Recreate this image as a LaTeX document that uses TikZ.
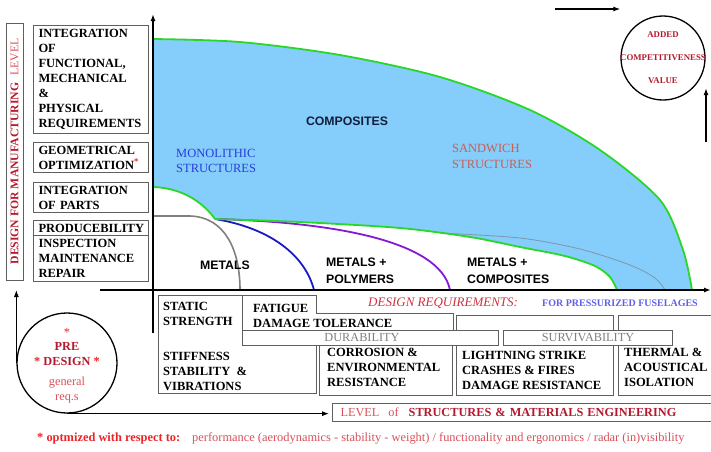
\documentclass[tikz,border=0pt]{standalone}
\usepackage{fontspec}
\setmainfont{Liberation Serif}
\setsansfont{Liberation Sans}
\usepackage{xcolor}
\usetikzlibrary{arrows.meta, calc}

\definecolor{skyfill}{RGB}{133,205,250}
\definecolor{limeline}{RGB}{40,215,40}
\definecolor{boxgray}{RGB}{95,95,95}
\definecolor{darkred}{RGB}{180,25,45}
\definecolor{softred}{RGB}{215,80,90}
\definecolor{brightred}{RGB}{235,35,40}
\definecolor{polyblue}{RGB}{25,25,200}
\definecolor{purpleline}{RGB}{130,25,215}
\definecolor{monoblue}{RGB}{40,60,220}
\definecolor{sandred}{RGB}{200,95,85}
\definecolor{navytext}{RGB}{20,30,60}
\definecolor{fuselblue}{RGB}{95,95,235}
\definecolor{thingray}{RGB}{125,150,170}
\definecolor{reqred}{RGB}{205,50,65}

\newcommand{\boxfont}{\bfseries\fontsize{12.5}{15}\selectfont}
\newcommand{\labfont}{\sffamily\bfseries\fontsize{12.3}{17}\selectfont}

\begin{document}
\begin{tikzpicture}[x=1pt, y=-1pt, >={Latex[length=7pt, width=5pt]},
  every node/.style={inner sep=0pt},
  lbox/.style={draw=boxgray, line width=1pt, anchor=north west, align=left, text width=105pt, inner xsep=5pt, font=\boxfont},
  rbox/.style={draw=boxgray, line width=1pt, fill=white, anchor=north west},
  btxt/.style={anchor=north west, align=left, font=\boxfont},
  gtxt/.style={font=\fontsize{12.3}{15}\selectfont, text=gray},
  stxt/.style={align=left, font=\labfont},
  axis/.style={line width=1.6pt, ->},
  curve/.style={line width=1.8pt}]
  \useasboundingbox (0,0) rectangle (711,451);

  % composites region
  \fill[skyfill] plot[smooth] coordinates {(153,39) (240,42) (340,55) (440,77) (530,110) (600,150) (660,200) (683,250) (692,290)}
    -- plot[smooth] coordinates {(617,290) (610,277) (595,266) (565,256) (520,247) (470,237) (400,228) (300,222) (215,219)}
    .. controls (205,205) and (185,188) .. (153,187) -- cycle;
  \draw[thingray, line width=0.8pt] plot[smooth] coordinates {(440,233) (520,238) (580,249) (630,265) (655,278) (665,290)};
  \draw[gray, line width=1.6pt] (153,216) -- (190,216) .. controls (225,217) and (240,250) .. (240,290);
  \draw[polyblue, curve] (215,219) .. controls (270,228) and (305,255) .. (314,290);
  \draw[purpleline, curve] (215,219) .. controls (330,222) and (440,240) .. (450,290);
  \draw[limeline, curve] plot[smooth] coordinates {(153,39) (240,42) (340,55) (440,77) (530,110) (600,150) (660,200) (683,250) (692,290)};
  \draw[limeline, curve] plot[smooth] coordinates {(617,290) (610,277) (595,266) (565,256) (520,247) (470,237) (400,228) (300,222) (215,219)};
  \draw[limeline, curve] (215,219) .. controls (205,205) and (185,188) .. (153,187);

  \node[font=\sffamily\bfseries\fontsize{12.3}{15}\selectfont, text=navytext] (comp) at (347,121) {COMPOSITES};
  \node[anchor=west, align=left, text=monoblue, font=\fontsize{12.5}{15}\selectfont] (mono) at (176,160.5) {MONOLITHIC\\STRUCTURES};
  \node[anchor=west, align=left, text=sandred, font=\fontsize{12.5}{16}\selectfont] (sand) at (452,156) {SANDWICH\\STRUCTURES};
  \node[stxt] (metals) at (225,265) {METALS};
  \node[stxt, anchor=west] (metpoly) at (326,270.5) {METALS +\\POLYMERS};
  \node[stxt, anchor=west] (metcomp) at (467,270.5) {METALS +\\COMPOSITES};

  % axes
  \coordinate (vbot) at (153,333);
  \coordinate (vtop) at (153,14);
  \coordinate (hleft) at (100,290);
  \coordinate (hright) at (711,290);
  \draw[axis] (vbot) -- (vtop);
  \draw[axis] (hleft) -- (hright);

  % design for manufacturing column
  \node[draw=boxgray, line width=1pt, rotate=90, minimum width=257, minimum height=17, font=\fontsize{11.7}{14}\selectfont] (dfmlevel) at (14.5,151.5) {{\bfseries\color{darkred}DESIGN FOR MANUFACTURING}\hspace{7pt}{\color{softred}LEVEL}};
  \node[lbox, minimum height=108] (funcreq) at (33,25) {INTEGRATION\\OF\\FUNCTIONAL,\\MECHANICAL\\\&\\PHYSICAL\\REQUIREMENTS};
  \node[lbox, minimum height=30] (geomopt) at (33,142) {GEOMETRICAL\\OPTIMIZATION\textsuperscript{\color{brightred}*}};
  \node[lbox, minimum height=30] (intparts) at (33,182) {INTEGRATION\\OF PARTS};
  \node[lbox, minimum height=15] (produce) at (33,220) {PRODUCEBILITY};
  \node[lbox, minimum height=46] (inspect) at (33,235) {INSPECTION\\MAINTENANCE\\REPAIR};

  % design requirements
  \node[anchor=west, font=\itshape\fontsize{13}{15}\selectfont, text=reqred] (desreq) at (368,303) {DESIGN REQUIREMENTS:};
  \node[anchor=west, font=\bfseries\fontsize{10}{12}\selectfont, text=fuselblue] (fusel) at (542,303) {FOR PRESSURIZED FUSELAGES};
  \node[rbox, minimum width=158, minimum height=98] (statbox) at (158,295) {};
  \node[rbox, minimum width=133, minimum height=50] (corrbox) at (319,345) {};
  \node[rbox, minimum width=157, minimum height=80] (lightbox) at (456,315) {};
  \node[rbox, minimum width=100, minimum height=80] (thermbox) at (618,315) {};
  \draw[draw=boxgray, line width=1pt, fill=white] (242,295) -- (316,295) -- (316,313) -- (453,313) -- (453,330) -- (242,330) -- cycle;
  \node[rbox, minimum width=256, minimum height=15] (durabox) at (242,330) {};
  \node[rbox, gtxt, minimum width=169, minimum height=15] (survbox) at (503,330) {SURVIVABILITY};
  \node[btxt] (stattxt) at (163,302) {STATIC\\STRENGTH\\[20pt]STIFFNESS\\STABILITY~~\&\\VIBRATIONS};
  \node[btxt] (fattxt) at (253,304) {FATIGUE};
  \node[btxt] (damtxt) at (253,319) {DAMAGE TOLERANCE};
  \node[gtxt] (duratxt) at (362,337.5) {DURABILITY};
  \node[btxt] (corrtxt) at (327,348) {CORROSION \&\\ENVIRONMENTAL\\RESISTANCE};
  \node[btxt] (lighttxt) at (462,351) {LIGHTNING STRIKE\\CRASHES \& FIRES\\DAMAGE RESISTANCE};
  \node[btxt] (thermtxt) at (624,348) {THERMAL \&\\ACOUSTICAL\\ISOLATION};

  % pre design and levels
  \node[circle, draw, line width=1.3pt, minimum size=100] (pre) at (67,363) {};
  \node[align=center, text=darkred, font=\fontsize{12.3}{15}\selectfont] (pretxt) at (67,366) {{\color{brightred}*}\\[-1pt]\textbf{PRE}\\\textbf{{\color{brightred}*} DESIGN {\color{brightred}*}}\\[5pt]{\color{softred}general}\\{\color{softred}req.s}};
  \node[draw=boxgray, line width=1pt, anchor=north west, minimum height=18, text width=375pt, inner xsep=8pt, align=left, font=\fontsize{12.3}{15}\selectfont] (lvlbox) at (332,403) {{\color{softred}LEVEL\hspace{9pt}of}\hspace{10pt}{\bfseries\color{darkred}STRUCTURES \& MATERIALS ENGINEERING}};
  \draw[->, line width=1pt] (pre.west) -- (pre.west |- hleft);
  \draw[->, line width=1pt, shorten >=3pt] (pre.south) -- (pre.south -| lvlbox.west);

  % added value
  \node[circle, draw, line width=1.3pt, minimum size=84] (added) at (663,58) {};
  \node[align=center, font=\bfseries\fontsize{8.8}{10}\selectfont, text=darkred] (addedtxt) at (added.center) {ADDED\\[13pt]COMPETITIVENESS\\[13pt]VALUE};
  \coordinate (acin) at (555,9);
  \coordinate (acup) at (706,142);
  \draw[->, line width=1.2pt] (acin) -- (acin -| added.west);
  \draw[->, line width=1.2pt] (acup) -- (acup |- added.south east);

  \node[anchor=west, font=\fontsize{12.4}{14}\selectfont, text=brightred] (optnote) at (37,438) {\textbf{* optmized with respect to:}\hspace{12pt}{\color{softred}performance (aerodynamics - stability - weight) / functionality and ergonomics / radar (in)visibility}};
\end{tikzpicture}
\end{document}
